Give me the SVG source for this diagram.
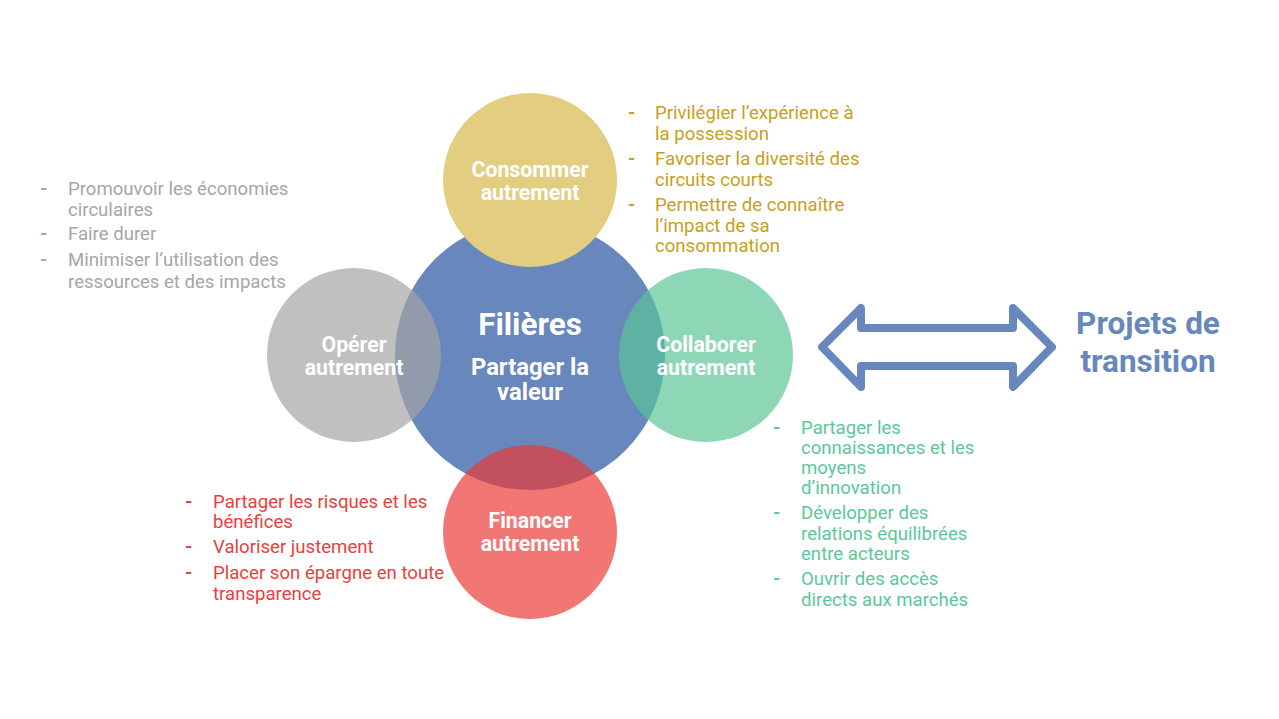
<svg xmlns="http://www.w3.org/2000/svg" width="1279" height="719" viewBox="0 0 1279 719">
  <style>
    text { font-family: Roboto, "Liberation Sans", sans-serif; }
    .lbl { fill: #ffffff; font-weight: bold; font-size: 21.3px; text-anchor: middle; }
    .list { font-size: 18.6px; }
    .dash { font-weight: bold; }
    .gray { fill: #a6a6a6; }
    .gold { fill: #c8a020; }
    .green { fill: #5cc898; }
    .red { fill: #e93f3d; }
  </style>

  <rect width="1279" height="719" fill="#ffffff"/>

  <!-- central circle -->
  <g id="filieres">
    <circle cx="530" cy="355" r="135" fill="#6787bd"/>
  </g>

  <!-- satellite circles -->
  <g id="consommer">
    <circle cx="530" cy="180" r="87" fill="#e2cd81"/>
    <text class="lbl" x="530" y="176.5">Consommer</text>
    <text class="lbl" x="530" y="199.5">autrement</text>
  </g>
  <g id="operer">
    <circle cx="354" cy="355" r="87" fill="#a4a4a4" fill-opacity="0.69"/>
    <text class="lbl" x="354" y="351.5">Opérer</text>
    <text class="lbl" x="354" y="374.5">autrement</text>
  </g>
  <g id="collaborer">
    <circle cx="706" cy="355" r="87" fill="#5ac597" fill-opacity="0.69"/>
    <text class="lbl" x="706" y="351.5">Collaborer</text>
    <text class="lbl" x="706" y="374.5">autrement</text>
  </g>
  <g id="financer">
    <circle cx="530" cy="532" r="87" fill="#eb3936" fill-opacity="0.69"/>
    <text class="lbl" x="530" y="527.5">Financer</text>
    <text class="lbl" x="530" y="550.5">autrement</text>
  </g>

  <!-- central labels -->
  <g id="filieres-labels">
    <text class="lbl" x="530" y="335" style="font-size:31.5px">Filières</text>
    <text class="lbl" x="530" y="375" style="font-size:23.8px">Partager la</text>
    <text class="lbl" x="530" y="400" style="font-size:23.8px">valeur</text>
  </g>

  <!-- gold list -->
  <g id="list-consommer" class="list gold">
    <text class="dash" x="628" y="118.5">-</text>
    <text x="655" y="118.5">Privilégier l’expérience à</text>
    <text x="655" y="139.5">la possession</text>
    <text class="dash" x="628" y="164.5">-</text>
    <text x="655" y="164.5">Favoriser la diversité des</text>
    <text x="655" y="185.5">circuits courts</text>
    <text class="dash" x="628" y="210.5">-</text>
    <text x="655" y="210.5">Permettre de connaître</text>
    <text x="655" y="231.5">l’impact de sa</text>
    <text x="655" y="251.5">consommation</text>
  </g>

  <!-- gray list -->
  <g id="list-operer" class="list gray">
    <text class="dash" x="40" y="194.5">-</text>
    <text x="68" y="194.5">Promouvoir les économies</text>
    <text x="68" y="215.5">circulaires</text>
    <text class="dash" x="40" y="239.5">-</text>
    <text x="68" y="239.5">Faire durer</text>
    <text class="dash" x="40" y="265.5">-</text>
    <text x="68" y="265.5">Minimiser l’utilisation des</text>
    <text x="68" y="287.5">ressources et des impacts</text>
  </g>

  <!-- red list -->
  <g id="list-financer" class="list red">
    <text class="dash" x="185" y="507.5">-</text>
    <text x="213" y="507.5">Partager les risques et les</text>
    <text x="213" y="527.5">bénéfices</text>
    <text class="dash" x="185" y="552.5">-</text>
    <text x="213" y="552.5">Valoriser justement</text>
    <text class="dash" x="185" y="578.5">-</text>
    <text x="213" y="578.5">Placer son épargne en toute</text>
    <text x="213" y="599.5">transparence</text>
  </g>

  <!-- green list -->
  <g id="list-collaborer" class="list green">
    <text class="dash" x="773" y="433.5">-</text>
    <text x="801" y="433.5">Partager les</text>
    <text x="801" y="453.5">connaissances et les</text>
    <text x="801" y="473.5">moyens</text>
    <text x="801" y="493.5">d’innovation</text>
    <text class="dash" x="773" y="518.5">-</text>
    <text x="801" y="518.5">Développer des</text>
    <text x="801" y="539.5">relations équilibrées</text>
    <text x="801" y="559.5">entre acteurs</text>
    <text class="dash" x="773" y="584.5">-</text>
    <text x="801" y="584.5">Ouvrir des accès</text>
    <text x="801" y="605.5">directs aux marchés</text>
  </g>

  <!-- double arrow -->
  <g id="connectors">
    <polygon points="822,347 861,308 861,328 1013,328 1013,308 1052,347 1013,387 1013,366 861,366 861,387"
             fill="none" stroke="#6787bd" stroke-width="8" stroke-linejoin="round"/>
  </g>

  <g id="projets">
    <text x="1148" y="334" style="font-size:31.5px;font-weight:bold;fill:#6787bd;text-anchor:middle">Projets de</text>
    <text x="1148" y="372" style="font-size:31.5px;font-weight:bold;fill:#6787bd;text-anchor:middle">transition</text>
  </g>
</svg>
